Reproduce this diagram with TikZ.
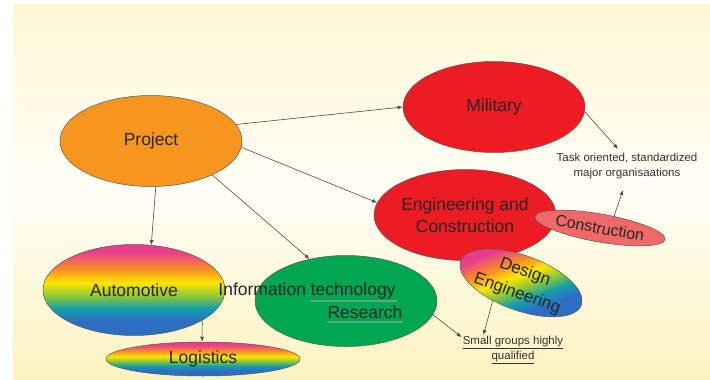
\documentclass[tikz,border=0pt]{standalone}
\usepackage{fontspec}
\setmainfont{Liberation Sans}
\usetikzlibrary{shapes.geometric,arrows.meta,decorations.pathmorphing}
\definecolor{bgtop}{RGB}{255,248,215}
\definecolor{bgmid}{RGB}{255,254,246}
\definecolor{bgbot}{RGB}{253,243,192}
\definecolor{projorange}{RGB}{247,150,30}
\definecolor{milred}{RGB}{237,28,36}
\definecolor{conspink}{RGB}{240,105,105}
\definecolor{itgreen}{RGB}{0,166,80}
\definecolor{rbblue}{RGB}{45,110,195}
\definecolor{rbteal}{RGB}{20,160,170}
\definecolor{rbgreen}{RGB}{130,195,65}
\definecolor{rbyellow}{RGB}{255,230,0}
\definecolor{rborange}{RGB}{247,148,30}
\definecolor{rbpink}{RGB}{232,60,140}
\pgfdeclareverticalshading{rainbow}{100bp}{color(0bp)=(rbblue); color(25bp)=(rbblue); color(33bp)=(rbblue); color(40bp)=(rbteal); color(46bp)=(rbgreen); color(54bp)=(rbyellow); color(61bp)=(rborange); color(71bp)=(rbpink); color(75bp)=(rbpink); color(100bp)=(rbpink)}
\tikzset{
    blob/.style={ellipse, draw=black!65, line width=0.5pt, inner sep=0pt,
        minimum width=182pt, minimum height=91pt, text=black!85,
        font=\fontsize{17.5}{22}\selectfont, align=center},
    rainbowblob/.style={blob, shade, shading=rainbow},
    link/.style={-{Latex[length=5pt,width=4pt]}, draw=black!70, line width=0.6pt},
    note/.style={align=center, text=black!80, inner sep=1pt,
        font=\fontsize{11.5}{15}\selectfont},
    squig/.style={draw=gray!60, line width=0.35pt, decorate,
        decoration={zigzag, amplitude=0.5pt, segment length=1.4pt}}
}
\begin{document}
\begin{tikzpicture}[x=1pt,y=-1pt]
            \useasboundingbox (0,0) rectangle (710,380);
            \shade[top color=bgtop, bottom color=bgbot, middle color=bgmid] (13,4) rectangle (710,380);
            \node[blob, fill=projorange] (project) at (151,141) {Project};
            \node[blob, fill=milred] (military) at (494,107) {Military};
            \node[blob, fill=milred] (engcon) at (465,215) {Engineering and\\Construction};
            \node[rainbowblob] (automotive) at (134,290) {Automotive};
            \node[rainbowblob, minimum width=194pt, minimum height=34pt] (logistics) at (203,359) {Logistics};
            \node[blob, fill=itgreen] (itres) at (346,301) {};
            \node[blob, fill=conspink, rotate=-10, minimum width=132pt, minimum height=28pt,
                font=\fontsize{16}{19}\selectfont] (construction) at (600,228) {Construction};
            \node[rainbowblob, shading angle=20, rotate=-20, minimum width=124pt, minimum height=40pt,
                font=\fontsize{17}{23}\selectfont] (design) at (521,283) {Design\\Engineering};
            \node[text=black!85, font=\fontsize{17.5}{22}\selectfont] (ittxt) at (307,291) {Information technology};
            \node[text=black!85, font=\fontsize{17.5}{22}\selectfont] (restxt) at (365,312) {Research};
            \draw[squig] (310,301) -- (397,301);
            \draw[squig] (327,322) -- (403,322);
            \node[note] (tasktxt) at (627,166) {Task oriented, standardized\\major organisaations};
            \node[note] (smallgrp) at (513,350) {\underline{Small groups highly}\\\underline{qualified}};
            \foreach \u/\v in {project.11/military.180, project.356/engcon.172, project.276/automotive.69,
                project.331/itres.131, automotive.336/logistics.93, design.232/smallgrp.153, itres.351/smallgrp.166}{
                    \draw[link] (\u) -- (\v);
                }
            \draw[link] (military.357) -- ([xshift=-9pt,yshift=3pt]tasktxt.north);
            \draw[link] (construction.50) -- ([xshift=-4pt,yshift=-10pt]tasktxt.south);
        \end{tikzpicture}
\end{document}
